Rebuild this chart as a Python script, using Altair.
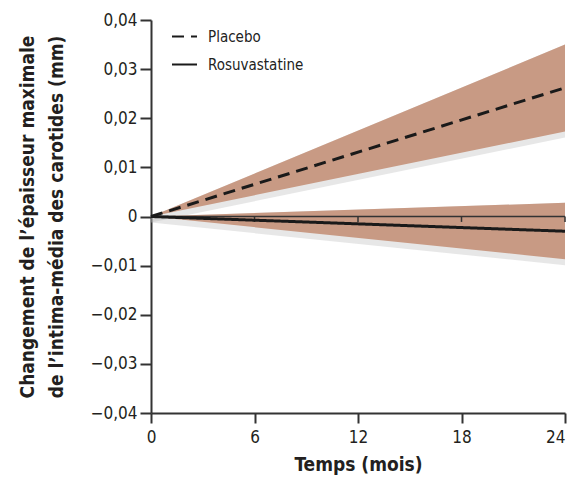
import altair as alt
import pandas as pd

months = [0, 24]
groups = ["Placebo", "Rosuvastatine"]
placebo_mean = [0.0, 0.0262]
placebo_low = [0.0, 0.0173]
placebo_high = [0.0, 0.0350]
rosu_mean = [0.0, -0.0030]
rosu_low = [0.0, -0.0087]
rosu_high = [0.0, 0.0028]
zero_ticks = [6, 12, 18, 24]
y_ticks = [-0.04, -0.03, -0.02, -0.01, 0, 0.01, 0.02, 0.03, 0.04]
x_ticks = [0, 6, 12, 18, 24]

rows = []
for i, m in enumerate(months):
    rows.append({"mois": m, "groupe": "Placebo", "moy": placebo_mean[i], "bas": placebo_low[i], "haut": placebo_high[i]})
    rows.append({"mois": m, "groupe": "Rosuvastatine", "moy": rosu_mean[i], "bas": rosu_low[i], "haut": rosu_high[i]})
df = pd.DataFrame(rows)

ticks_df = pd.DataFrame({"mois": zero_ticks, "y0": [0.0] * len(zero_ticks), "y1": [-0.0011] * len(zero_ticks)})
zero_df = pd.DataFrame({"mois": [0], "mois2": [24], "y0": [0.0]})

FONT = "Liberation Sans Narrow, DejaVu Sans Condensed, Roboto, sans-serif"

xscale = alt.Scale(domain=[0, 24], nice=False)
yscale = alt.Scale(domain=[-0.04, 0.04], nice=False)

label_expr = "datum.value == 0 ? '0' : replace(format(datum.value, '.2f'), '.', ',')"

x_enc = alt.X("mois:Q", scale=xscale,
              axis=alt.Axis(values=x_ticks, title="Temps (mois)", format="d", grid=False,
                            tickSize=10, labelPadding=6, titlePadding=10, labelFlush=False,
                            labelAlign={"condition": {"test": "datum.value == 24", "value": "right"},
                                        "value": "center"}))
y_enc = alt.Y("bas:Q", scale=yscale,
              axis=alt.Axis(values=y_ticks, labelExpr=label_expr, grid=False, labelFlush=False,
                            title=["Changement de l\u2019épaisseur maximale",
                                   "de l\u2019intima-média des carotides (mm)"],
                            tickSize=11, labelPadding=3, titlePadding=24, titleLineHeight=29))

shadow = alt.Chart(df).mark_area(color="#b0b0b0", opacity=0.3).encode(
    x=alt.X("mois:Q", scale=xscale),
    y=alt.Y("bas:Q", scale=yscale),
    y2="haut:Q",
    detail="groupe:N",
    yOffset=alt.value(6),
)

band = alt.Chart(df).mark_area(color="#c89a84", opacity=1).encode(
    x=x_enc,
    y=y_enc,
    y2="haut:Q",
    detail="groupe:N",
)

zero_line = alt.Chart(zero_df).mark_rule(color="#333333", strokeWidth=1.5).encode(
    x=alt.X("mois:Q", scale=xscale), x2="mois2:Q", y=alt.Y("y0:Q", scale=yscale)
)
zero_ticks_m = alt.Chart(ticks_df).mark_rule(color="#333333", strokeWidth=1.5).encode(
    x=alt.X("mois:Q", scale=xscale), y=alt.Y("y0:Q", scale=yscale), y2="y1:Q"
)

lines = alt.Chart(df).mark_line(color="#1a1a1a", strokeWidth=3).encode(
    x=alt.X("mois:Q", scale=xscale),
    y=alt.Y("moy:Q", scale=yscale),
    strokeDash=alt.StrokeDash(
        "groupe:N",
        scale=alt.Scale(domain=groups, range=[[12, 7], [1, 0]]),
        legend=alt.Legend(title=None, orient="none", legendX=20, legendY=3,
                          symbolType="stroke", symbolSize=625, symbolStrokeWidth=2,
                          symbolStrokeColor="#1a1a1a", labelFont=FONT, labelFontSize=15,
                          labelColor="#222222", rowPadding=6, labelOffset=10),
    ),
)

chart = alt.layer(shadow, band, zero_line, zero_ticks_m, lines).properties(
    width=414, height=393,
    autosize=alt.AutoSizeParams(type="none"),
    padding={"left": 143, "top": 12, "right": 2, "bottom": 66},
).configure_view(stroke=None).configure_axis(
    domainColor="#333333", domainWidth=2, tickColor="#333333", tickWidth=2,
    labelFont=FONT, labelFontSize=17, labelColor="#231f20",
    titleFont=FONT, titleFontSize=19, titleFontWeight="bold", titleColor="#231f20",
).configure_legend(symbolStrokeWidth=2)

chart.save("out.html", embed_options={"renderer": "svg", "actions": False})
